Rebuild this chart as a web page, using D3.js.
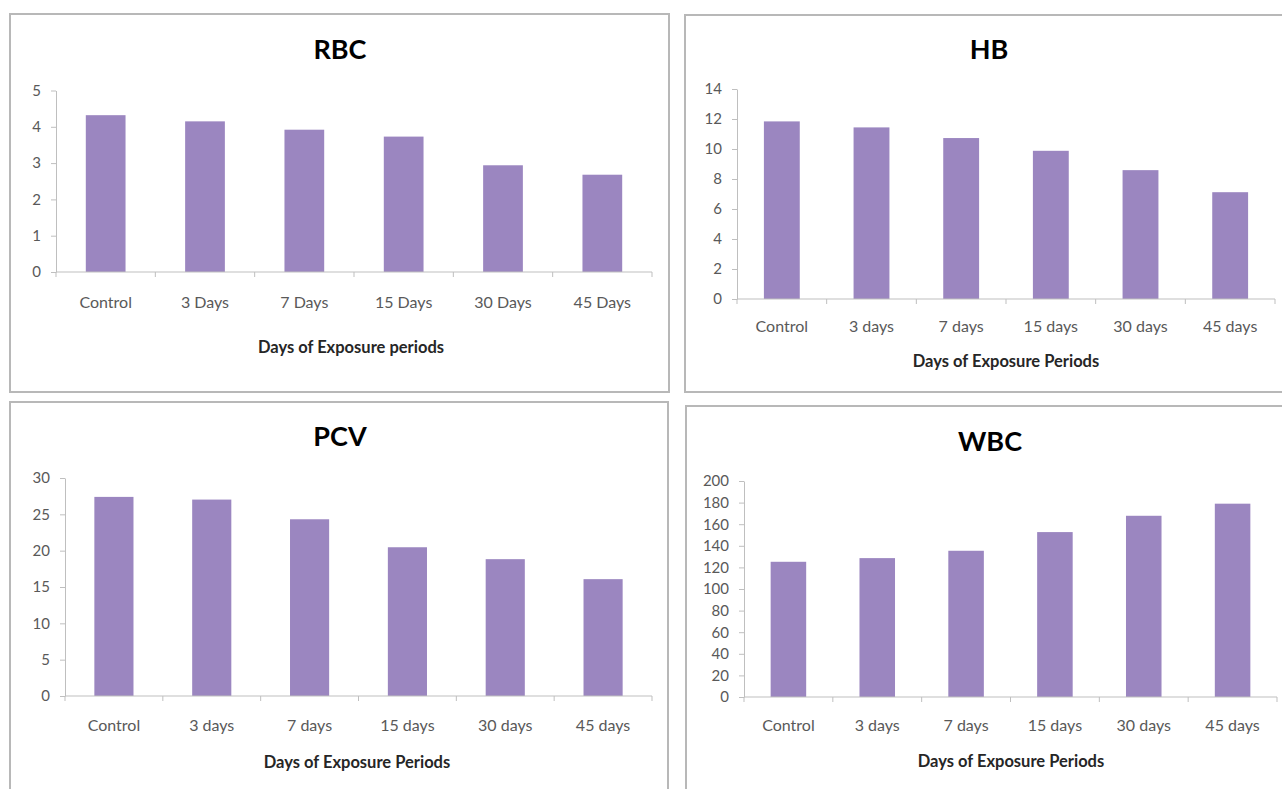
<!DOCTYPE html>
<html>
<head>
<meta charset="utf-8">
<script src="https://cdn.jsdelivr.net/npm/d3@7"></script>
<style>
  html, body { margin: 0; padding: 0; background: #ffffff; overflow: hidden; }
  svg { display: block; }
  text { font-family: Lato, "Open Sans", sans-serif; }
</style>
</head>
<body>
<svg id="chart" width="1282" height="789"></svg>
<script>
// Haematological parameters over the exposure periods
const rbcCategories = ["Control", "3 Days", "7 Days", "15 Days", "30 Days", "45 Days"];
const periodCategories = ["Control", "3 days", "7 days", "15 days", "30 days", "45 days"];

const rbcValues = [4.32, 4.15, 3.92, 3.73, 2.94, 2.68];
const hbValues = [11.84, 11.44, 10.73, 9.88, 8.59, 7.12];
const pcvValues = [27.4, 27.03, 24.32, 20.47, 18.83, 16.08];
const wbcValues = [125.2, 128.6, 135.4, 152.7, 167.8, 179.0];

const rbcTicks = [0, 1, 2, 3, 4, 5];
const hbTicks = [0, 2, 4, 6, 8, 10, 12, 14];
const pcvTicks = [0, 5, 10, 15, 20, 25, 30];
const wbcTicks = [0, 20, 40, 60, 80, 100, 120, 140, 160, 180, 200];

const titles = ["RBC", "HB", "PCV", "WBC"];
const xTitles = ["Days of Exposure periods", "Days of Exposure Periods",
                 "Days of Exposure Periods", "Days of Exposure Periods"];

const BAR = "#9b86c0";
const AXIS = "#bfbfbf";
const FRAME = "#b8b8b8";
const TICK_TEXT = "#595959";

const svg = d3.select("#chart");
svg.append("rect").attr("width", 1282).attr("height", 789).attr("fill", "#fff");

// Each panel: frame box, plot area, title and axis-title positions
const panels = [
  { title: titles[0], xTitle: xTitles[0], cats: rbcCategories, vals: rbcValues, ticks: rbcTicks,
    frame: [10, 14, 669, 392], plot: [56, 90.5, 652, 272], titleAt: [340, 50], tickY: 302, xTitleAt: [351, 347] },
  { title: titles[1], xTitle: xTitles[1], cats: periodCategories, vals: hbValues, ticks: hbTicks,
    frame: [685, 15, 1293, 392], plot: [737, 89, 1275, 299], titleAt: [989, 50], tickY: 326, xTitleAt: [1006, 361] },
  { title: titles[2], xTitle: xTitles[2], cats: periodCategories, vals: pcvValues, ticks: pcvTicks,
    frame: [10, 402, 668, 800], plot: [65, 478, 652, 696], titleAt: [340, 437], tickY: 725, xTitleAt: [357, 762] },
  { title: titles[3], xTitle: xTitles[3], cats: periodCategories, vals: wbcValues, ticks: wbcTicks,
    frame: [686, 406, 1293, 800], plot: [744, 481, 1277, 697], titleAt: [990, 442], tickY: 725, xTitleAt: [1011, 761] }
];

panels.forEach(p => {
  const g = svg.append("g");
  const [fx0, fy0, fx1, fy1] = p.frame;
  g.append("rect")
    .attr("x", fx0).attr("y", fy0)
    .attr("width", fx1 - fx0).attr("height", fy1 - fy0)
    .attr("fill", "#fff").attr("stroke", FRAME).attr("stroke-width", 2);

  const [px0, py0, px1, py1] = p.plot;
  const x = d3.scaleBand().domain(p.cats).range([px0, px1]).paddingInner(0.6).paddingOuter(0.3);
  const y = d3.scaleLinear().domain([0, d3.max(p.ticks)]).range([py1, py0]);
  const band = d3.scaleBand().domain(p.cats).range([px0, px1]);

  // bars
  g.selectAll("rect.bar").data(p.vals).join("rect")
    .attr("class", "bar")
    .attr("x", (d, i) => x(p.cats[i]))
    .attr("width", x.bandwidth())
    .attr("y", d => y(d))
    .attr("height", d => y(0) - y(d))
    .attr("fill", BAR);

  // y axis
  const yAxis = g.append("g")
    .attr("transform", `translate(${px0},0)`)
    .call(d3.axisLeft(y).tickValues(p.ticks).tickFormat(d3.format("d"))
      .tickSize(5).tickPadding(10).tickSizeOuter(0));
  yAxis.select(".domain").attr("stroke", AXIS);
  yAxis.selectAll(".tick line").attr("stroke", AXIS);
  yAxis.selectAll(".tick text")
    .attr("fill", TICK_TEXT).attr("font-size", 15)
    .style("font-family", "Lato, sans-serif");

  // x axis: ticks at category boundaries
  const boundaries = p.cats.map(c => band(c)).concat([px1]);
  const xAxisG = g.append("g");
  xAxisG.append("line")
    .attr("x1", px0).attr("x2", px1).attr("y1", y(0)).attr("y2", y(0))
    .attr("stroke", AXIS);
  xAxisG.selectAll("line.tk").data(boundaries).join("line")
    .attr("class", "tk")
    .attr("x1", d => d).attr("x2", d => d)
    .attr("y1", y(0)).attr("y2", y(0) + 5)
    .attr("stroke", AXIS);
  xAxisG.selectAll("text").data(p.cats).join("text")
    .attr("x", d => band(d) + band.bandwidth() / 2)
    .attr("y", p.tickY)
    .attr("dy", "0.35em")
    .attr("text-anchor", "middle")
    .attr("fill", TICK_TEXT).attr("font-size", 16)
    .text(d => d);

  // chart title
  g.append("text")
    .attr("x", p.titleAt[0]).attr("y", p.titleAt[1])
    .attr("dy", "0.35em")
    .attr("text-anchor", "middle")
    .attr("font-size", 27).attr("font-weight", 700)
    .attr("fill", "#000")
    .text(p.title);

  // axis title
  g.append("text")
    .attr("x", p.xTitleAt[0]).attr("y", p.xTitleAt[1])
    .attr("dy", "0.35em")
    .attr("text-anchor", "middle")
    .attr("font-size", 16.5).attr("font-weight", 700)
    .attr("fill", "#262626")
    .text(p.xTitle);
});
</script>
</body>
</html>
